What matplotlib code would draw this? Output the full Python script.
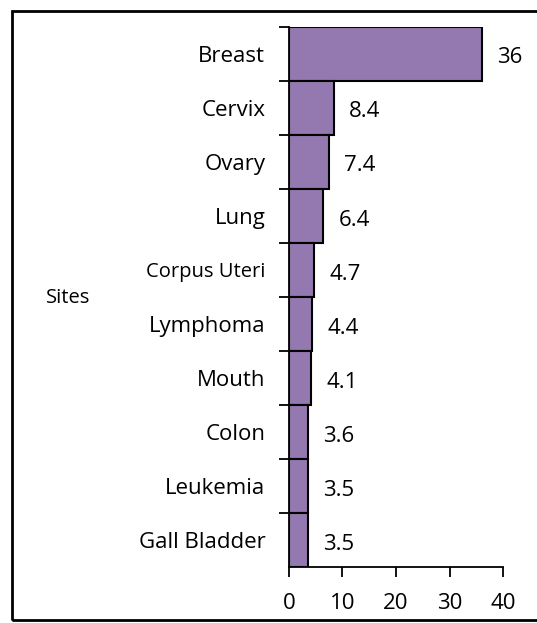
import matplotlib.pyplot as plt
from matplotlib.patches import Rectangle

# cancer sites and their share (%)
sites = ["Breast", "Cervix", "Ovary", "Lung", "Corpus Uteri", "Lymphoma",
         "Mouth", "Colon", "Leukemia", "Gall Bladder"]
values = [36, 8.4, 7.4, 6.4, 4.7, 4.4, 4.1, 3.6, 3.5, 3.5]
value_labels = ["36", "8.4", "7.4", "6.4", "4.7", "4.4", "4.1", "3.6", "3.5", "3.5"]
x_ticks = [0, 10, 20, 30, 40]

plt.rcParams["font.family"] = ["Open Sans", "DejaVu Sans"]

fig = plt.figure(figsize=(5.37, 6.23), dpi=100)
ax = fig.add_axes([0.538, 0.090, 0.399, 0.867])

pos = list(range(len(sites)))[::-1]
ax.barh(pos, values, height=1.0, color="#9479b0", edgecolor="black", linewidth=1.5)

for p, v, t in zip(pos, values, value_labels):
    ax.annotate(t, (v, p), xytext=(11, -3), textcoords="offset points",
                va="center", ha="left", fontsize=16)

ax.set_xlim(0, 40)
ax.set_ylim(-0.5, len(sites) - 0.5)
ax.set_xticks(x_ticks)
ax.set_xticklabels([str(t) for t in x_ticks], fontsize=16)

# ticks at category boundaries, labels at centres
ax.set_yticks([i + 0.5 for i in range(len(sites))])
ax.set_yticklabels([])
ax.set_yticks(pos, minor=True)
ax.set_yticklabels(sites, minor=True, fontsize=16)
for lab in ax.get_yticklabels(minor=True):
    if lab.get_text() == "Corpus Uteri":
        lab.set_fontsize(14.5)
ax.tick_params(axis="y", which="major", length=7, width=1.3, direction="out")
ax.tick_params(axis="y", which="minor", length=0, pad=17)
ax.tick_params(axis="x", length=7, width=1.3, direction="out", pad=12)

for s in ["top", "right"]:
    ax.spines[s].set_visible(False)
for s in ["left", "bottom"]:
    ax.spines[s].set_linewidth(1.3)

fig.text(46 / 537, 1 - 298 / 623, "Sites", fontsize=14.5, ha="left", va="center")

# outer frame of the chart area
fig.patches.append(Rectangle((12 / 537, 3 / 623), 1.0, 609 / 623,
                             transform=fig.transFigure, fill=False,
                             edgecolor="black", linewidth=2, clip_on=False))

fig.savefig("out.png", dpi=100)
